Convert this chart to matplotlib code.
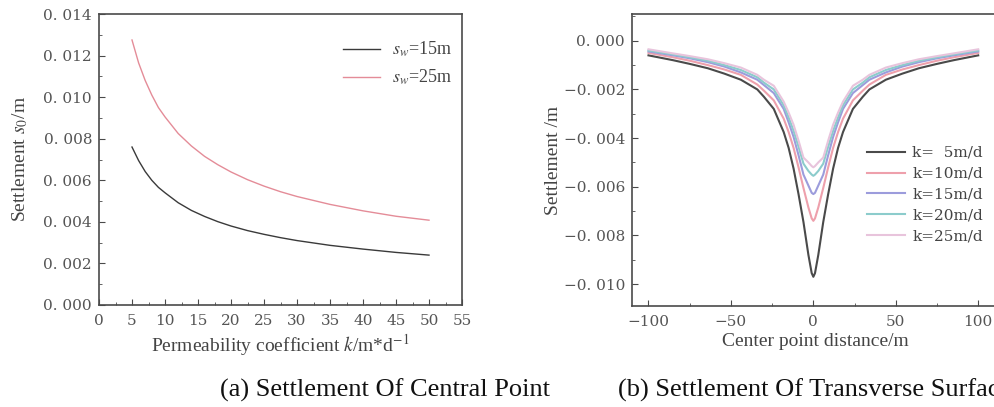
import matplotlib
matplotlib.use("Agg")
import matplotlib.pyplot as plt
from matplotlib.ticker import MultipleLocator, FuncFormatter

plt.rcParams['font.family'] = ['Liberation Serif', 'DejaVu Serif']
plt.rcParams['mathtext.fontset'] = 'stix'

# (a) settlement of central point vs permeability coefficient
k_vals = [5, 6, 7, 8, 9, 10, 12, 14, 16, 18, 20, 22.5, 25, 27.5, 30, 35, 40, 45, 50]
s_w15 = [7.60, 6.95, 6.42, 6.00, 5.66, 5.40, 4.92, 4.55, 4.26, 4.01, 3.80, 3.58,
         3.40, 3.24, 3.10, 2.87, 2.69, 2.53, 2.40]
s_w25 = [12.75, 11.65, 10.80, 10.10, 9.50, 9.05, 8.25, 7.65, 7.15, 6.75, 6.40, 6.03,
         5.72, 5.45, 5.22, 4.84, 4.53, 4.27, 4.08]
s_w15 = [v * 1e-3 for v in s_w15]
s_w25 = [v * 1e-3 for v in s_w25]

# (b) transverse surface settlement for different k (values in 1e-3 m)
dist = [-100, -85, -75, -64, -54, -44, -34, -30, -24, -18, -15, -12, -9, -6, -3, -1, 0,
        1, 3, 6, 9, 12, 15, 18, 24, 30, 34, 44, 54, 64, 75, 85, 100]
k5 = [-0.60, -0.80, -0.95, -1.13, -1.35, -1.60, -2.00, -2.30, -2.80, -3.75, -4.40, -5.25, -6.30, -7.45, -8.80, -9.55, -9.70,
      -9.55, -8.80, -7.45, -6.30, -5.25, -4.40, -3.75, -2.80, -2.30, -2.00, -1.60, -1.35, -1.13, -0.95, -0.80, -0.60]
k10 = [-0.50, -0.68, -0.82, -1.00, -1.18, -1.40, -1.80, -2.05, -2.45, -3.20, -3.75, -4.40, -5.20, -6.05, -6.85, -7.30, -7.40,
       -7.30, -6.85, -6.05, -5.20, -4.40, -3.75, -3.20, -2.45, -2.05, -1.80, -1.40, -1.18, -1.00, -0.82, -0.68, -0.50]
k15 = [-0.44, -0.60, -0.72, -0.88, -1.06, -1.30, -1.60, -1.82, -2.15, -2.80, -3.35, -3.95, -4.70, -5.50, -5.95, -6.25, -6.30,
       -6.25, -5.95, -5.50, -4.70, -3.95, -3.35, -2.80, -2.15, -1.82, -1.60, -1.30, -1.06, -0.88, -0.72, -0.60, -0.44]
k20 = [-0.40, -0.56, -0.68, -0.82, -1.00, -1.20, -1.50, -1.72, -2.00, -2.65, -3.15, -3.70, -4.35, -5.05, -5.35, -5.50, -5.55,
       -5.50, -5.35, -5.05, -4.35, -3.70, -3.15, -2.65, -2.00, -1.72, -1.50, -1.20, -1.00, -0.82, -0.68, -0.56, -0.40]
k25 = [-0.35, -0.52, -0.63, -0.76, -0.92, -1.10, -1.40, -1.60, -1.85, -2.50, -2.95, -3.45, -4.10, -4.80, -5.00, -5.15, -5.20,
       -5.15, -5.00, -4.80, -4.10, -3.45, -2.95, -2.50, -1.85, -1.60, -1.40, -1.10, -0.92, -0.76, -0.63, -0.52, -0.35]
profiles = [k5, k10, k15, k20, k25]
profile_labels = ['k=  5m/d', 'k=10m/d', 'k=15m/d', 'k=20m/d', 'k=25m/d']
profile_colors = ['#4a4a4a', '#eea0ac', '#9c9cdc', '#8ccccc', '#e8c4dc']

tick_col = '#555555'
spine_col = '#4a4a4a'
label_col = '#444444'


def fmt_tick(v, pos):
    s = f'{abs(v):.3f}'.replace('.', '. ')
    if round(v, 6) < 0:
        return '\u2212' + s
    return s


def style_axes(ax):
    for sp in ax.spines.values():
        sp.set_color(spine_col)
        sp.set_linewidth(1.2)
    ax.tick_params(which='both', direction='in', top=False, right=False,
                   colors=spine_col, labelcolor=tick_col, labelsize=11)
    ax.tick_params(which='major', length=4)
    ax.tick_params(which='minor', length=2)
    ax.tick_params(axis='x', pad=6.5)
    ax.tick_params(axis='y', pad=5)
    for lab in ax.get_xticklabels() + ax.get_yticklabels():
        lab.set_family('DejaVu Serif')
    ax.yaxis.set_major_formatter(FuncFormatter(fmt_tick))


fig = plt.figure(figsize=(9.94, 4.07), dpi=100)

# left panel
ax1 = fig.add_axes([99 / 994, 102 / 407, 363 / 994, 291 / 407])
ax1.plot(k_vals, s_w15, color='#3a3a3a', lw=1.0, label=r'$s_w$=15m')
ax1.plot(k_vals, s_w25, color='#e48c98', lw=1.0, label=r'$s_w$=25m')
ax1.set_xlim(0, 55)
ax1.set_ylim(0, 0.014)
ax1.xaxis.set_major_locator(MultipleLocator(5))
ax1.xaxis.set_minor_locator(MultipleLocator(2.5))
ax1.yaxis.set_major_locator(MultipleLocator(0.002))
ax1.yaxis.set_minor_locator(MultipleLocator(0.001))
style_axes(ax1)
ax1.set_xlabel(r'Permeability coefficient $k$/m*d$^{-1}$', fontsize=14, color=label_col, labelpad=3)
ax1.set_ylabel(r'Settlement $s_0$/m', fontsize=14, color=label_col, labelpad=10)
ax1.legend(loc='upper left', bbox_to_anchor=(343 / 994, 1 - 40 / 407), bbox_transform=fig.transFigure,
           frameon=False, fontsize=13, borderpad=0, borderaxespad=0, handlelength=2.05,
           handletextpad=0.65, labelcolor=label_col, labelspacing=0.47)

# right panel
ax2 = fig.add_axes([632 / 994, 101 / 407, 366 / 994, 292 / 407])
for vals, lab, col in zip(profiles, profile_labels, profile_colors):
    ax2.plot(dist, [v * 1e-3 for v in vals], color=col, lw=1.5, label=lab)
ax2.set_xlim(-110, 112)
ax2.set_ylim(-0.0109, 0.0011)
ax2.xaxis.set_major_locator(MultipleLocator(50))
ax2.xaxis.set_minor_locator(MultipleLocator(25))
ax2.yaxis.set_major_locator(MultipleLocator(0.002))
ax2.yaxis.set_minor_locator(MultipleLocator(0.001))
style_axes(ax2)
ax2.set_xlabel('Center point distance/m', fontsize=14, color=label_col, labelpad=3)
ax2.set_ylabel('Settlement /m', fontsize=14, color=label_col, labelpad=1)
leg2 = ax2.legend(loc='upper left', bbox_to_anchor=(867 / 994, 1 - 146 / 407), bbox_transform=fig.transFigure,
                  frameon=False, fontsize=11, borderpad=0, borderaxespad=0, handlelength=2.5,
                  handletextpad=0.45, labelcolor=label_col, labelspacing=0.45)
for t in leg2.get_texts():
    t.set_family('DejaVu Serif')

# captions (the right one runs off the page edge, as in the source figure)
fig.text(220 / 994, 1 - 390 / 407, '(a) Settlement Of Central Point', fontsize=19,
         va='center', ha='left', color='#111111')
fig.text(618 / 994, 1 - 390 / 407, '(b) Settlement Of Transverse Surface', fontsize=19,
         va='center', ha='left', color='#111111')

fig.savefig('out.png', dpi=100)
